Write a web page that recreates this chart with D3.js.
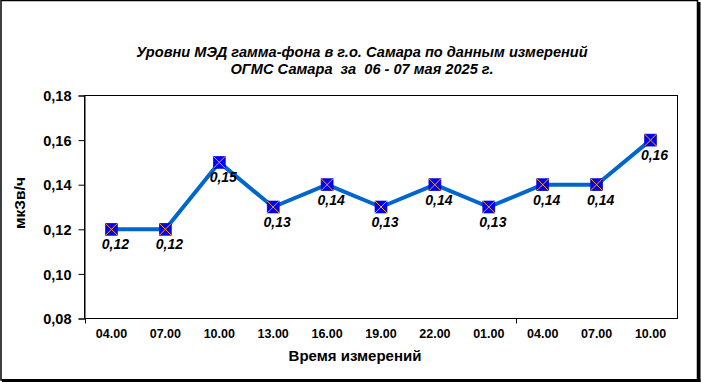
<!DOCTYPE html>
<html><head><meta charset="utf-8">
<script src="https://cdn.jsdelivr.net/npm/d3@7"></script>
<style>body{margin:0;background:#fff}svg{display:block}text{font-family:"Liberation Sans",Arial,sans-serif}</style>
</head><body>
<script>
const categories = ["04.00","07.00","10.00","13.00","16.00","19.00","22.00","01.00","04.00","07.00","10.00"];
const values = [0.12,0.12,0.15,0.13,0.14,0.13,0.14,0.13,0.14,0.14,0.16];
const yTicks = [0.08,0.10,0.12,0.14,0.16,0.18];
const titleLines = ["Уровни МЭД гамма-фона в г.о. Самара по данным измерений","ОГМС Самара  за  06 - 07 мая 2025 г."];
const xTitle = "Время измерений";
const yTitle = "мкЗв/ч";

const W = 701, H = 383;
const svg = d3.select("body").append("svg").attr("width", W).attr("height", H);
svg.append("rect").attr("width", W).attr("height", H).attr("fill", "#fff");

// outer frame with shadow
svg.append("rect").attr("x", 1).attr("y", 0.5).attr("width", 696.5).attr("height", 379.5)
  .attr("fill", "none").attr("stroke", "#000").attr("stroke-width", 1.5);
svg.append("line").attr("x1", 699).attr("x2", 699).attr("y1", 2).attr("y2", 382).attr("stroke", "#000").attr("stroke-width", 3);
svg.append("line").attr("x1", 2).attr("x2", 700.5).attr("y1", 380.5).attr("y2", 380.5).attr("stroke", "#000").attr("stroke-width", 3);

const L = 84.5, R = 677.5, T = 95.5, B = 318.5;
const x = d3.scaleBand().domain(d3.range(categories.length)).range([L, R]).padding(0);
const y = d3.scaleLinear().domain([0.08, 0.18]).range([B, T]);

// plot box
svg.append("rect").attr("x", L).attr("y", T).attr("width", R - L).attr("height", B - T)
  .attr("fill", "none").attr("stroke", "#000").attr("stroke-width", 1);

// y axis
const fmt = d => d.toFixed(2).replace(".", ",");
const yAxis = d3.axisLeft(y).tickValues(yTicks).tickFormat(fmt).tickSize(6).tickPadding(7);
const gy = svg.append("g").attr("transform", `translate(${L},0)`).call(yAxis);
gy.select(".domain").attr("stroke", "#000");
gy.selectAll("line").attr("stroke", "#000");
gy.selectAll("text").attr("font-size", 14.5).attr("font-weight", "bold").attr("fill", "#000").attr("dy", "0.36em");

// x axis
const gx = svg.append("g").attr("transform", `translate(0,${B})`);
gx.append("line").attr("x1", L).attr("x2", R).attr("stroke", "#000");
[0, 8].forEach(i => {
  const xx = Math.round(x(i)) + 0.5;
  gx.append("line").attr("x1", xx).attr("x2", xx).attr("y1", 0).attr("y2", 5).attr("stroke", "#000");
});
gx.selectAll("text.cat").data(categories).join("text").attr("class", "cat")
  .attr("x", (d, i) => x(i) + x.bandwidth() / 2).attr("y", 19)
  .attr("text-anchor", "middle").attr("font-size", 12.5).attr("font-weight", "bold").attr("fill", "#000")
  .text(d => d);

// line
const cx = i => x(i) + x.bandwidth() / 2;
svg.append("path").datum(values)
  .attr("d", d3.line().x((d, i) => cx(i)).y(d => y(d)))
  .attr("fill", "none").attr("stroke", "#0066CC").attr("stroke-width", 4).attr("stroke-linejoin", "round");

// markers
const s = 6;
const mk = svg.append("g").selectAll("g").data(values).join("g")
  .attr("transform", (d, i) => `translate(${cx(i)},${y(d)})`);
mk.append("rect").attr("x", -s).attr("y", -s).attr("width", 2 * s).attr("height", 2 * s)
  .attr("fill", "#0000FF").attr("stroke", "#0000C0").attr("stroke-width", 0.6);
mk.append("path").attr("d", `M${-s},${-s}L${s},${s}M${s},${-s}L${-s},${s}`)
  .attr("stroke", "#FFA500").attr("stroke-width", 1);

// data labels
svg.append("g").selectAll("text").data(values).join("text")
  .attr("x", (d, i) => cx(i) + 4).attr("y", d => y(d) + 20)
  .attr("text-anchor", "middle").attr("font-size", 14).attr("font-weight", "bold").attr("font-style", "italic")
  .attr("fill", "#000").text(d => fmt(d));

// title
svg.append("g").selectAll("text").data(titleLines).join("text")
  .attr("x", 362).attr("y", (d, i) => 57 + i * 16.5)
  .attr("text-anchor", "middle").attr("font-size", 14.6).attr("font-weight", "bold").attr("font-style", "italic")
  .attr("fill", "#000").attr("xml:space", "preserve").style("white-space", "pre").text(d => d);

// axis titles
svg.append("text").attr("x", 355).attr("y", 361).attr("text-anchor", "middle")
  .attr("font-size", 15).attr("font-weight", "bold").attr("fill", "#000").text(xTitle);
svg.append("text").attr("transform", "translate(25,203) rotate(-90)").attr("text-anchor", "middle")
  .attr("font-size", 15.5).attr("font-weight", "bold").attr("fill", "#000").text(yTitle);
</script>
</body></html>
